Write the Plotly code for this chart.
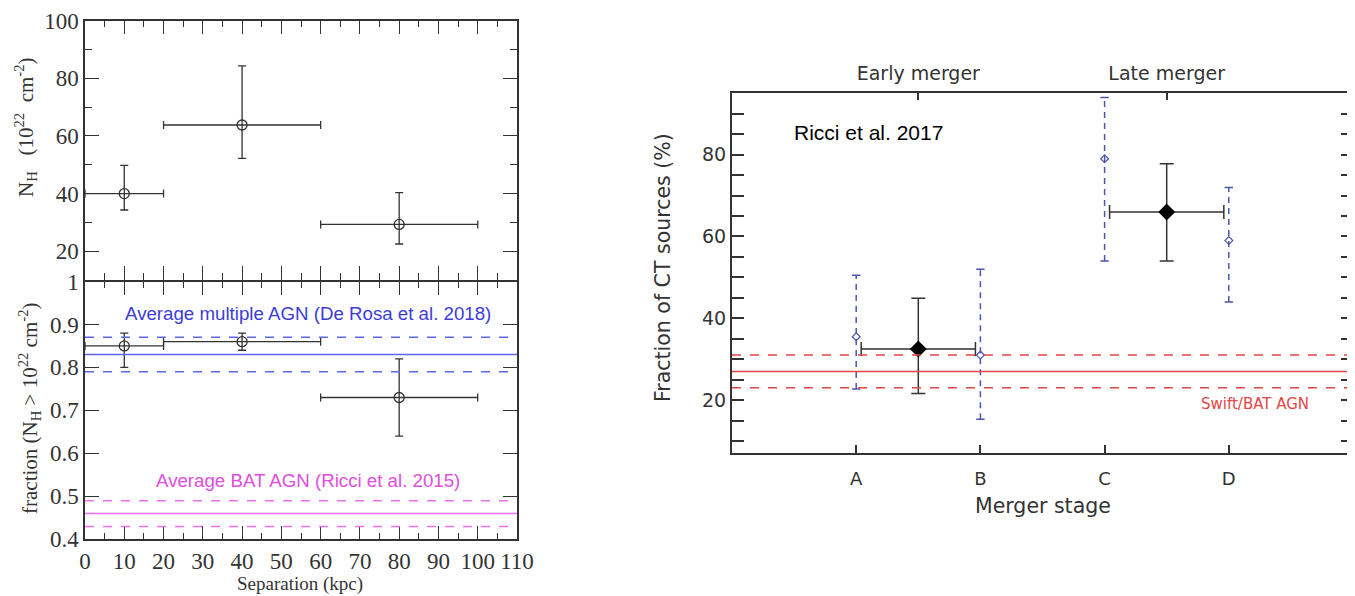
import plotly.graph_objects as go

# ---------------- data: left panels ----------------
sep = [10, 40, 80]
sep_err = [10, 20, 20]
nh = [40.0, 63.8, 29.3]
nh_hi = [49.8, 84.3, 40.3]
nh_lo = [34.3, 52.2, 22.5]
frac = [0.85, 0.86, 0.73]
frac_hi = [0.88, 0.88, 0.82]
frac_lo = [0.80, 0.84, 0.64]
derosa_mean = 0.83
derosa_band = [0.87, 0.79]
bat_mean = 0.46
bat_band = [0.49, 0.43]
nh_ticks = [20, 40, 60, 80, 100]
frac_ticks = [0.4, 0.5, 0.6, 0.7, 0.8, 0.9, 1.0]
frac_ticktext = ["0.4", "0.5", "0.6", "0.7", "0.8", "0.9", "1"]
sep_ticks = [0, 10, 20, 30, 40, 50, 60, 70, 80, 90, 100, 110]

# ---------------- data: right panel ----------------
stage_pos = [1, 2, 3, 4]
stage_labels = ["A", "B", "C", "D"]
merger_pos = [1.5, 3.5]
merger_labels = ["Early merger", "Late merger"]
merger_xerr = [0.46, 0.46]
ct_frac = [32.5, 66.0]
ct_hi = [44.9, 77.8]
ct_lo = [21.6, 54.0]
stage_frac = [35.5, 31.0, 79.0, 59.0]
stage_hi = [50.5, 52.0, 94.0, 72.0]
stage_lo = [22.7, 15.3, 54.0, 44.0]
swift_mean = 27.0
swift_band = [31.0, 23.0]
ct_ticks = [20, 40, 60, 80]

DARK = "#333333"
BLUE_TXT = "#3b3be0"
BLUE_LN = "#5a68ee"
MAG_TXT = "#e04ee0"
MAG_LN = "#ee70ee"
RED = "#e24646"
STEEL = "#4a55b0"
SERIF = "Liberation Serif"
SANS = "Liberation Sans"
GEO = "DejaVu Sans"

# the page body adds an 8px margin, so the figure is drawn 8px smaller and offset
OFF = 8
W, H = 1355 - OFF, 596 - OFF
def px(x):
    return (x - OFF) / W
def py(y):
    return 1 - (y - OFF) / H

fig = go.Figure()

# ---- top-left: NH vs separation ----
fig.add_trace(go.Scatter(
    x=sep, y=nh, mode="markers", xaxis="x", yaxis="y",
    marker=dict(symbol="circle-open", size=10, color=DARK, line=dict(width=1.3, color=DARK)),
    error_x=dict(type="data", array=sep_err, color=DARK, thickness=1.3, width=4),
    error_y=dict(type="data", array=[h - v for h, v in zip(nh_hi, nh)],
                 arrayminus=[v - l for v, l in zip(nh, nh_lo)], color=DARK, thickness=1.3, width=4),
))

# ---- bottom-left: fraction vs separation ----
fig.add_trace(go.Scatter(
    x=sep, y=frac, mode="markers", xaxis="x2", yaxis="y2",
    marker=dict(symbol="circle-open", size=10, color=DARK, line=dict(width=1.3, color=DARK)),
    error_x=dict(type="data", array=sep_err, color=DARK, thickness=1.3, width=4),
    error_y=dict(type="data", array=[h - v for h, v in zip(frac_hi, frac)],
                 arrayminus=[v - l for v, l in zip(frac, frac_lo)], color=DARK, thickness=1.3, width=4),
))

def hline(xref, yref, y, color, dash, width=1.5):
    fig.add_shape(type="line", xref=xref, yref=yref, x0=0, x1=1, y0=y, y1=y,
                  line=dict(color=color, width=width, dash=dash), layer="above")

hline("x2 domain", "y2", derosa_mean, BLUE_LN, "solid")
for v in derosa_band:
    hline("x2 domain", "y2", v, BLUE_LN, "dash")
hline("x2 domain", "y2", bat_mean, MAG_LN, "solid")
for v in bat_band:
    hline("x2 domain", "y2", v, MAG_LN, "dash")

# ---- right panel ----
hline("x3 domain", "y3", swift_mean, RED, "solid")
for v in swift_band:
    hline("x3 domain", "y3", v, RED, "dash")

bx, by = [], []
for p, lo, hi in zip(stage_pos, stage_lo, stage_hi):
    bx += [p, p, None]
    by += [lo, hi, None]
fig.add_trace(go.Scatter(x=bx, y=by, mode="lines", xaxis="x3", yaxis="y3",
                         line=dict(color=STEEL, width=1.5, dash="6px,5px")))
fig.add_trace(go.Scatter(x=stage_pos + stage_pos, y=stage_lo + stage_hi, mode="markers",
                         xaxis="x3", yaxis="y3",
                         marker=dict(symbol="line-ew", size=6, line=dict(width=1.5, color=STEEL))))
fig.add_trace(go.Scatter(x=stage_pos, y=stage_frac, mode="markers", xaxis="x3", yaxis="y3",
                         marker=dict(symbol="diamond-open", size=6, color=STEEL,
                                     line=dict(width=1.2, color=STEEL))))

fig.add_trace(go.Scatter(
    x=merger_pos, y=ct_frac, mode="markers", xaxis="x3", yaxis="y3",
    marker=dict(symbol="diamond", size=13, color="black"),
    error_x=dict(type="data", array=merger_xerr, color=DARK, thickness=1.5, width=7),
    error_y=dict(type="data", array=[h - v for h, v in zip(ct_hi, ct_frac)],
                 arrayminus=[v - l for v, l in zip(ct_frac, ct_lo)], color=DARK, thickness=1.5, width=7),
))
# invisible trace so the top (merger) axis is drawn
fig.add_trace(go.Scatter(x=merger_pos, y=ct_frac, mode="markers", xaxis="x4", yaxis="y3",
                         marker=dict(opacity=0), hoverinfo="skip"))

# ---------------- axes ----------------
serif_tick = dict(family=SERIF, size=23, color=DARK)
LW = 1.5
common_left = dict(showline=True, linecolor=DARK, linewidth=LW, ticks="inside", tickcolor=DARK,
                   tickwidth=1.3, showgrid=False, zeroline=False, mirror="allticks", automargin=False)

fig.update_layout(
    width=W, height=H, margin=dict(l=0, r=0, t=0, b=0, autoexpand=False),
    plot_bgcolor="white", paper_bgcolor="white", showlegend=False,
    xaxis=dict(domain=[px(85), px(517)], anchor="y", range=[0, 110], tickvals=sep_ticks,
               showticklabels=False, ticklen=14,
               minor=dict(dtick=5, tick0=0, ticklen=7, ticks="inside", tickcolor=DARK, tickwidth=1.3),
               **common_left),
    yaxis=dict(domain=[py(280), py(20.7)], anchor="x", range=[10, 100], tickvals=nh_ticks,
               tickfont=serif_tick, ticklen=14,
               minor=dict(dtick=10, tick0=0, ticklen=7, ticks="inside", tickcolor=DARK, tickwidth=1.3),
               **common_left),
    xaxis2=dict(domain=[px(85), px(517)], anchor="y2", range=[0, 110], tickvals=sep_ticks,
                tickfont=serif_tick, ticklen=14,
                minor=dict(dtick=5, tick0=0, ticklen=7, ticks="inside", tickcolor=DARK, tickwidth=1.3),
                **common_left),
    yaxis2=dict(domain=[py(539.3), py(280 + LW)], anchor="x2", range=[0.4, 1.0], tickvals=frac_ticks,
                ticktext=frac_ticktext, tickfont=serif_tick, ticklen=14, **common_left),
    xaxis3=dict(domain=[px(732), px(1353)], anchor="y3", range=[0, 5], tickvals=stage_pos,
                ticktext=stage_labels, tickfont=dict(family=GEO, size=18, color=DARK),
                showline=True, linecolor=DARK, linewidth=2, ticks="inside", ticklen=8,
                tickcolor=DARK, tickwidth=1.5, showgrid=False, zeroline=False, mirror=False,
                ticklabelstandoff=8, automargin=False),
    xaxis4=dict(overlaying="x3", anchor="y3", side="top", range=[0, 5], tickvals=merger_pos,
                ticktext=merger_labels, tickfont=dict(family=GEO, size=19, color=DARK),
                showline=True, linecolor=DARK, linewidth=2, ticks="inside", ticklen=7,
                tickcolor=DARK, tickwidth=1.5, showgrid=False, zeroline=False,
                ticklabelstandoff=4, automargin=False),
    yaxis3=dict(domain=[py(453.3), py(93.3)], anchor="x3", range=[7, 95], tickvals=ct_ticks,
                tickfont=dict(family=GEO, size=19, color=DARK),
                showline=True, linecolor=DARK, linewidth=2, ticks="inside", ticklen=12,
                tickcolor=DARK, tickwidth=1.5, showgrid=False, zeroline=False, mirror="allticks",
                automargin=False,
                minor=dict(dtick=5, tick0=0, ticklen=7, ticks="inside", tickcolor=DARK, tickwidth=1.5)),
)

# ---------------- texts ----------------
ann = [
    dict(x=px(26), y=py(127), text="N<sub>H</sub>   (10<sup>22</sup>  cm<sup>-2</sup>)", textangle=-90,
         font=dict(family=SERIF, size=21, color=DARK)),
    dict(x=px(29), y=py(408), text="fraction (N<sub>H</sub> > 10<sup>22</sup> cm<sup>-2</sup>)", textangle=-90,
         font=dict(family=SERIF, size=21, color=DARK)),
    dict(x=px(300), y=py(584), text="Separation (kpc)", font=dict(family=SERIF, size=19, color=DARK)),
    dict(x=px(308), y=py(313), text="Average multiple AGN (De Rosa et al. 2018)",
         font=dict(family=SANS, size=18.7, color=BLUE_TXT)),
    dict(x=px(308), y=py(481), text="Average BAT AGN (Ricci et al. 2015)",
         font=dict(family=SANS, size=18.7, color=MAG_TXT)),
    dict(x=px(663), y=py(268), text="Fraction of CT sources (%)", textangle=-90,
         font=dict(family=GEO, size=20.5, color=DARK)),
    dict(x=px(1043), y=py(506), text="Merger stage", font=dict(family=GEO, size=20.5, color=DARK)),
    dict(x=px(792), y=py(133), text="Ricci et al. 2017", xanchor="left",
         font=dict(family=SANS, size=21, color="black")),
    dict(x=px(1255), y=py(404), text="Swift/BAT AGN", font=dict(family=GEO, size=15, color=RED)),
]
for a in ann:
    a.setdefault("xanchor", "center")
    fig.add_annotation(xref="paper", yref="paper", showarrow=False, yanchor="middle", **a)

fig.write_html("out.html")
